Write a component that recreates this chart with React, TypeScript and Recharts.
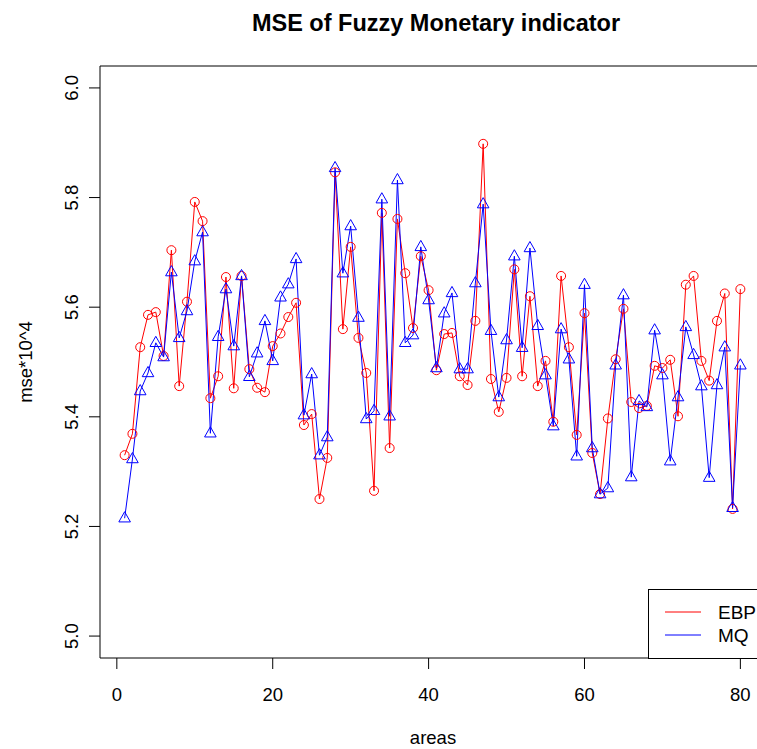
import React from "react";
import { LineChart, Line, XAxis, YAxis, ReferenceArea } from "recharts";

const ebpValues = [
  5.330, 5.369, 5.527, 5.586, 5.591, 5.511, 5.704, 5.456, 5.610, 5.792,
  5.757, 5.434, 5.474, 5.655, 5.452, 5.657, 5.487, 5.453, 5.445, 5.529,
  5.552, 5.582, 5.608, 5.385, 5.405, 5.250, 5.325, 5.846, 5.560, 5.710,
  5.544, 5.480, 5.265, 5.772, 5.343, 5.761, 5.662, 5.562, 5.693, 5.631,
  5.485, 5.551, 5.553, 5.474, 5.458, 5.575, 5.898, 5.469, 5.409, 5.471,
  5.669, 5.474, 5.620, 5.456, 5.502, 5.391, 5.657, 5.527, 5.367, 5.589,
  5.334, 5.259, 5.397, 5.505, 5.597, 5.427, 5.416, 5.420, 5.493, 5.489,
  5.504, 5.401, 5.641, 5.657, 5.502, 5.466, 5.575, 5.625, 5.232, 5.633,
];

const mqValues = [
  5.215, 5.323, 5.447, 5.480, 5.535, 5.509, 5.664, 5.544, 5.593, 5.684,
  5.737, 5.370, 5.546, 5.633, 5.529, 5.657, 5.473, 5.516, 5.575, 5.502,
  5.618, 5.642, 5.688, 5.403, 5.478, 5.330, 5.363, 5.854, 5.662, 5.748,
  5.581, 5.396, 5.411, 5.797, 5.401, 5.832, 5.535, 5.549, 5.710, 5.613,
  5.489, 5.589, 5.626, 5.487, 5.487, 5.644, 5.788, 5.557, 5.436, 5.540,
  5.693, 5.526, 5.708, 5.566, 5.476, 5.383, 5.560, 5.505, 5.328, 5.641,
  5.343, 5.259, 5.270, 5.494, 5.622, 5.290, 5.429, 5.418, 5.558, 5.476,
  5.319, 5.436, 5.564, 5.513, 5.456, 5.289, 5.458, 5.527, 5.234, 5.494,
];

const xTicks = [0, 20, 40, 60, 80];
const yTicks = [5.0, 5.2, 5.4, 5.6, 5.8, 6.0];
const seriesNames = ["EBP", "MQ"];
const seriesColors = ["#ff0000", "#0000ff"];

// R pads the data range by 4% on each side
const X_DOMAIN: [number, number] = [-2.16, 83.16];
const Y_DOMAIN: [number, number] = [4.96, 6.04];

const FONT = "'Liberation Sans', Arial, Helvetica, sans-serif";

const data = ebpValues.map((v, i) => ({ area: i + 1, ebp: v, mq: mqValues[i] }));

function Circle(props: any) {
  const { cx, cy } = props;
  if (cx == null || cy == null) return null;
  return <circle cx={cx} cy={cy} r={4.5} fill="none" stroke="#ff0000" strokeWidth={1} />;
}

function Triangle(props: any) {
  const { cx, cy } = props;
  if (cx == null || cy == null) return null;
  const pts = `${cx},${cy - 6.5} ${cx - 5.8},${cy + 3.7} ${cx + 5.8},${cy + 3.7}`;
  return <polygon points={pts} fill="none" stroke="#0000ff" strokeWidth={1} />;
}

function YTick(props: any) {
  const { x, y, payload } = props;
  const bx = x - 9;
  return (
    <text
      x={bx}
      y={y}
      transform={`rotate(-90 ${bx} ${y})`}
      textAnchor="middle"
      fontSize={18.5}
      fontFamily={FONT}
      fill="#000"
    >
      {Number(payload.value).toFixed(1)}
    </text>
  );
}

function XTick(props: any) {
  const { x, y, payload } = props;
  return (
    <text x={x} y={y + 30} textAnchor="middle" fontSize={18.5} fontFamily={FONT} fill="#000">
      {payload.value}
    </text>
  );
}

export default function App() {
  return (
    <div
      style={{
        position: "absolute",
        left: 0,
        top: 0,
        width: 757,
        height: 749,
        overflow: "hidden",
        background: "#fff",
      }}
    >
      <LineChart
        width={800}
        height={749}
        data={data}
        margin={{ top: 66, right: 35, bottom: 46, left: 0 }}
      >
        <XAxis
          dataKey="area"
          type="number"
          domain={X_DOMAIN}
          ticks={xTicks}
          allowDataOverflow
          axisLine={false}
          tickLine={{ stroke: "#000" }}
          tickSize={11}
          height={45}
          tick={<XTick />}
        />
        <YAxis
          type="number"
          domain={Y_DOMAIN}
          ticks={yTicks}
          allowDataOverflow
          axisLine={false}
          tickLine={{ stroke: "#000" }}
          tickSize={11}
          width={100}
          tick={<YTick />}
        />
        <ReferenceArea
          x1={X_DOMAIN[0]}
          x2={X_DOMAIN[1]}
          y1={Y_DOMAIN[0]}
          y2={Y_DOMAIN[1]}
          fill="none"
          stroke="#000"
          strokeWidth={1}
          ifOverflow="visible"
        />
        <Line
          dataKey="ebp"
          stroke="#ff0000"
          strokeWidth={1}
          dot={<Circle />}
          activeDot={false}
          isAnimationActive={false}
        />
        <Line
          dataKey="mq"
          stroke="#0000ff"
          strokeWidth={1}
          dot={<Triangle />}
          activeDot={false}
          isAnimationActive={false}
        />
      </LineChart>
      <svg
        width={757}
        height={749}
        style={{ position: "absolute", left: 0, top: 0, pointerEvents: "none" }}
        fontFamily={FONT}
      >
        <text x={436} y={31} textAnchor="middle" fontWeight="bold" fontSize={23.5}>
          MSE of Fuzzy Monetary indicator
        </text>
        <text x={433} y={744} textAnchor="middle" fontSize={18.5}>
          areas
        </text>
        <text x={32} y={362} textAnchor="middle" fontSize={18.5} transform="rotate(-90 32 362)">
          mse*10^4
        </text>
        {/* legend, inset at the bottom-right corner of the plot */}
        <rect x={648.5} y={589.5} width={200} height={69} fill="#fff" stroke="#000" strokeWidth={1} />
        {seriesNames.map((name, i) => (
          <g key={name}>
            <line x1={665} x2={701} y1={612 + i * 23} y2={612 + i * 23} stroke={seriesColors[i]} strokeWidth={1} />
            <text x={718} y={619 + i * 23} fontSize={19}>
              {name}
            </text>
          </g>
        ))}
      </svg>
    </div>
  );
}
